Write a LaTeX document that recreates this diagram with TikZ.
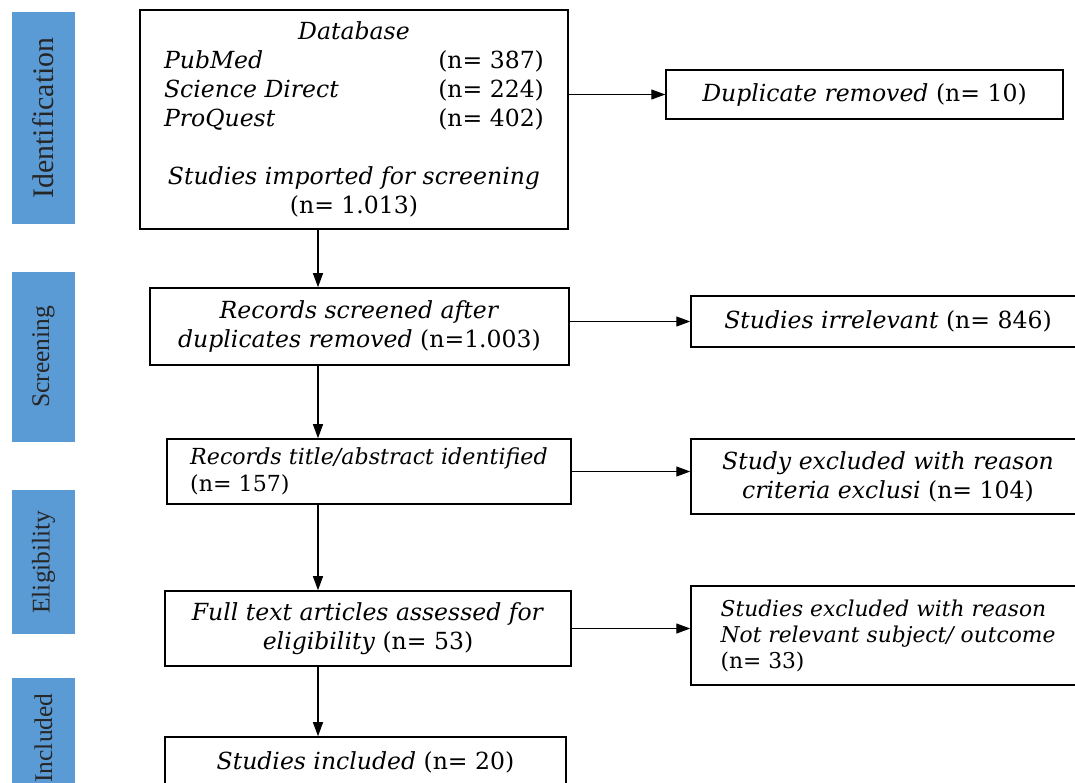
\documentclass[tikz,border=0pt]{standalone}
\usepackage{fontspec}
\setmainfont{DejaVu Serif}
\newfontfamily\barfont{Liberation Serif}
\usepackage{xcolor}
\usetikzlibrary{arrows.meta}
\definecolor{phaseblue}{HTML}{5B9BD5}

\begin{document}
\begin{tikzpicture}[x=0.02cm, y=-0.02cm,
  font=\fontsize{13.4}{16.5}\selectfont,
  box/.style={draw, line width=0.9pt, inner sep=2pt, align=center},
  phase/.style={fill=phaseblue, minimum height=1.26cm, rotate=90, inner sep=0pt,
    font=\barfont\fontsize{14.5}{18}\selectfont, text=black!85},
  >={Triangle[length=2.8mm,width=2mm]}]
\useasboundingbox (0,0) rectangle (1075,782);
\clip (0,0) rectangle (1075,782);
% phase bars on the left
\node[phase, minimum width=4.24cm, font=\barfont\fontsize{17}{18}\selectfont] (pid) at (43.5,118) {Identification};
\node[phase, minimum width=3.4cm] (pscr) at (43.5,357) {Screening};
\node[phase, minimum width=2.88cm] (pelig) at (43.5,562) {Eligibility};
\node[phase, minimum width=2.4cm] (pinc) at (43.5,738) {Included};
% main column
\node[box, minimum width=8.56cm, minimum height=4.38cm] (db) at (354,119.5)
  {\textit{Database}\\
   \makebox[7.6cm]{\textit{PubMed}\hfill(n= 387)}\hspace{0.24cm}\\
   \makebox[7.6cm]{\textit{Science Direct}\hfill(n= 224)}\hspace{0.24cm}\\
   \makebox[7.6cm]{\textit{ProQuest}\hfill(n= 402)}\hspace{0.24cm}\\[16.5pt]
   \textit{Studies imported for screening}\\
   (n= 1.013)};
\node[box, minimum width=8.38cm, minimum height=1.54cm] (scr) at (359.5,326.5)
  {\textit{Records screened after}\\\textit{duplicates removed} (n=1.003)};
\node[box, minimum width=8.08cm, minimum height=1.3cm, align=left,
  font=\fontsize{12.6}{15.5}\selectfont] (ttl) at (369,471.5)
  {\textit{Records title/abstract identified}\\(n= 157)};
\node[box, minimum width=8.12cm, minimum height=1.5cm] (full) at (368,628.5)
  {\textit{Full text articles assessed for}\\\textit{eligibility} (n= 53)};
\node[box, minimum width=8.02cm, minimum height=1.0cm] (inc) at (365.5,762)
  {\textit{Studies included} (n= 20)};
% excluded column
\node[box, minimum width=7.94cm, minimum height=0.98cm] (dup) at (864.5,94.5)
  {\textit{Duplicate removed} (n= 10)};
\node[box, minimum width=7.88cm, minimum height=1.02cm] (irr) at (888,321.5)
  {\textit{Studies irrelevant} (n= 846)};
\node[box, minimum width=7.88cm, minimum height=1.5cm] (exc1) at (888,476.5)
  {\textit{Study excluded with reason}\\\textit{criteria exclusi} (n= 104)};
\node[box, minimum width=7.88cm, minimum height=1.98cm, align=left,
  font=\fontsize{12.4}{14.8}\selectfont] (exc2) at (888,635.5)
  {\textit{Studies excluded with reason}\\\textit{Not relevant subject/ outcome}\\(n= 33)};
% arrows
\coordinate (spine) at (318,0);
\draw[->, line width=0.7pt] (db.south -| spine) -- (scr.north -| spine);
\draw[->, line width=0.7pt] (scr.south -| spine) -- (ttl.north -| spine);
\draw[->, line width=0.7pt] (ttl.south -| spine) -- (full.north -| spine);
\draw[->, line width=0.7pt] (full.south -| spine) -- (inc.north -| spine);
\draw[->, line width=0.7pt] (dup.west -| db.east) -- (dup.west);
\draw[->, line width=0.7pt] (irr.west -| scr.east) -- (irr.west);
\draw[->, line width=0.7pt] (ttl.east) -- (ttl.east -| exc1.west);
\draw[->, line width=0.7pt] (full.east) -- (full.east -| exc2.west);
\end{tikzpicture}
\end{document}
